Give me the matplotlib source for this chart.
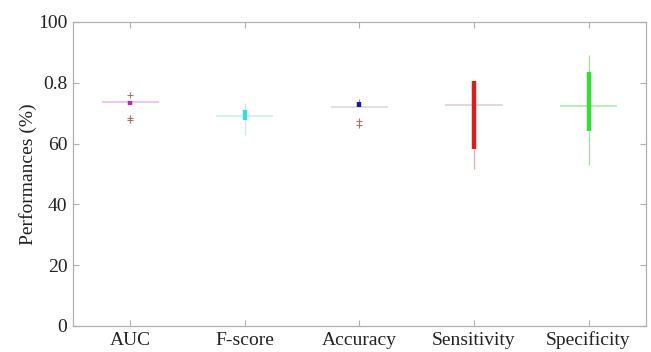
import matplotlib
matplotlib.use('Agg')
import matplotlib.pyplot as plt

# data (percent)
labels = ['AUC', 'F-score', 'Accuracy', 'Sensitivity', 'Specificity']
medians = [73.6, 69.0, 72.0, 72.7, 72.4]
q1 = [72.8, 67.6, 71.9, 58.2, 64.1]
q3 = [74.0, 71.0, 73.7, 80.6, 83.4]
whisk_lo = [72.8, 62.8, 71.9, 51.6, 53.0]
whisk_hi = [74.0, 73.5, 74.8, 80.6, 89.1]
outliers = [[75.9, 68.4, 67.8], [], [67.4, 66.2], [], []]

ytick_vals = [0, 20, 40, 60, 80, 100]
ytick_labels = ['0', '20', '40', '60', '0.8', '100']

box_colors = ['#c81ec8', '#33dede', '#1a1aa8', '#d42020', '#33e033']
med_colors = ['#e6b8e6', '#c4f0f0', '#d6d6e8', '#e2cccc', '#a8e8a8']
whisk_colors = ['#e0a8e0', '#b8eeee', '#8888cc', '#eaaaaa', '#9ee09e']

plt.rcParams['font.family'] = ['Liberation Serif', 'DejaVu Serif']

fig = plt.figure(figsize=(6.51, 3.52), dpi=100)
ax = fig.add_axes([0.112, 0.074, 0.88, 0.8635])

pos = list(range(1, len(labels) + 1))
for i, p in enumerate(pos):
    # whiskers
    ax.vlines(p, whisk_lo[i], q1[i], color=whisk_colors[i], lw=0.9, zorder=2)
    ax.vlines(p, q3[i], whisk_hi[i], color=whisk_colors[i], lw=0.9, zorder=2)
    # median line
    ax.hlines(medians[i], p - 0.25, p + 0.25, color=med_colors[i], lw=1.1, zorder=1)
    # compact box
    ax.vlines(p, q1[i], q3[i], color=box_colors[i], lw=3.2, zorder=3)
    # outliers
    if outliers[i]:
        ax.plot([p] * len(outliers[i]), outliers[i], '+', color='#b07070',
                ms=5, mew=0.8, zorder=4)

ax.set_xlim(0.5, 5.5)
ax.set_ylim(0, 100)
ax.set_xticks(pos)
ax.set_xticklabels(labels)
ax.set_yticks(ytick_vals)
ax.set_yticklabels(ytick_labels)
ax.set_ylabel('Performances (%)', fontsize=14, color='#222222', labelpad=1)

for s in ax.spines.values():
    s.set_color('#b0b0b0')
    s.set_linewidth(0.9)
ax.tick_params(direction='in', length=4, width=0.8, color='#b0b0b0',
               top=True, right=True, labelsize=14, labelcolor='#222222', pad=4)

fig.savefig('out.png', dpi=100)
